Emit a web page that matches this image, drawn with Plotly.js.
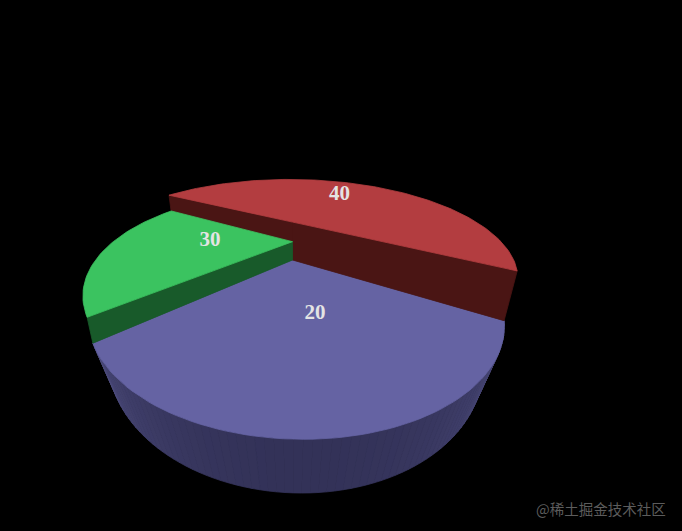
<!DOCTYPE html>
<html>
<head>
<meta charset="utf-8">
<script src="https://cdn.plot.ly/plotly-3.0.1.min.js"></script>
<style>html,body{margin:0;padding:0;background:#000;overflow:hidden}</style>
</head>
<body>
<div id="chart" style="width:682px;height:531px"></div>
<script>
// Data: wedge share and wedge height (the printed label)
const names = ['Red', 'Blue', 'Green'];
const shares = [50, 30, 20];
const heights = [40, 20, 30];
const labels = ['40', '20', '30'];

// Styles
const topColors = ['#b33d40', '#6563a3', '#3bc360'];
const wallColors = ['#4a1514', '#34335a', '#185a2a'];
const rimRadius = [0.975, 1, 0.985];
const labelRadius = [0.65, 0.47, 0.47];
const labelAngle = [301, 80.6, 184];
const labelNudge = [1.5, 1.7];   // px, x and y

// Camera of the 3D pie
const cam = {f: 290.4, D: 1.65, s: 0.476, c: 0.879, cx: 292.5, cy: 260, shear: 0.06};
const startAngle = 211.5;        // degrees, red wedge starts here
const unit = 0.01145;            // scene height per value unit
const lowest = Math.min(...heights);
const baseDrop = 0.287;          // thickness of the lowest wedge

function project(r, deg, z) {
  const t = deg * Math.PI / 180, X = r * Math.cos(t), Y = r * Math.sin(t);
  const depth = cam.D - Y * cam.c - z * cam.s;
  const dy = cam.f * (Y * cam.s - z * cam.c) / depth;
  const dyPlane = cam.f * (Y * cam.s) / depth;
  return [cam.cx + cam.f * X / depth + cam.shear * dyPlane, cam.cy + dy];
}
const zOf = h => (h - lowest) * unit;

function poly(points, color) {
  const pts = points.concat([points[0]]);
  return {
    type: 'scatter', mode: 'lines', fill: 'toself', fillcolor: color,
    x: pts.map(p => p[0]), y: pts.map(p => p[1]),
    line: {color: color, width: 0.8}, hoverinfo: 'skip', showlegend: false
  };
}
function arc(a0, a1, z, r) {
  const out = [], n = Math.max(2, Math.ceil(Math.abs(a1 - a0) / 1.5));
  for (let i = 0; i <= n; i++) out.push(project(r, a0 + (a1 - a0) * i / n, z));
  return out;
}
function sideShade(deg) {
  // darkest facing the viewer, lighter toward the silhouette
  const k = Math.abs(deg - 90) / 50;
  const m = Math.min(1, k * k);
  const a = [51, 50, 88], b = [76, 75, 124];
  return 'rgb(' + a.map((v, i) => Math.round(v + (b[i] - v) * m)).join(',') + ')';
}

// wedge angle ranges
const total = shares.reduce((p, q) => p + q, 0);
const ranges = [];
let cur = startAngle;
shares.forEach(v => { const sw = v / total * 360; ranges.push([cur, cur + sw]); cur += sw; });

const traces = [];
const red = 0, blue = 1, green = 2;
const zB = zOf(heights[blue]), zG = zOf(heights[green]), zR = zOf(heights[red]);
const bA0 = ranges[blue][0] % 360, bA1 = bA0 + shares[blue] / total * 360;

// blue outer side
for (let a = bA0; a < bA1; a += 1.5) {
  const e = Math.min(a + 1.5, bA1);
  const top = arc(a, e, zB, rimRadius[blue]), bot = arc(a, e, zB - baseDrop, rimRadius[blue]).reverse();
  traces.push(poly(top.concat(bot), sideShade((a + e) / 2)));
}
// blue top
traces.push(poly([project(0, 0, zB)].concat(arc(bA0, bA1, zB, rimRadius[blue])), topColors[blue]));
// red radial walls
[ranges[red][0], ranges[red][1]].forEach(a => {
  traces.push(poly([project(0, a, zR), project(rimRadius[red], a, zR), project(rimRadius[blue], a, zB), project(0, a, zB)], wallColors[red]));
});
// green radial wall (shared with blue)
const ga = ranges[green][0];
traces.push(poly([project(0, ga, zG), project(rimRadius[green], ga, zG), project(rimRadius[blue], ga, zB), project(0, ga, zB)], wallColors[green]));
// green top, red top
traces.push(poly([project(0, 0, zG)].concat(arc(ranges[green][0], ranges[green][1], zG, rimRadius[green])), topColors[green]));
traces.push(poly([project(0, 0, zR)].concat(arc(ranges[red][0], ranges[red][1], zR, rimRadius[red])), topColors[red]));

// labels
const lp = labels.map((t, i) => project(labelRadius[i], labelAngle[i], zOf(heights[i])));
traces.push({
  type: 'scatter', mode: 'text', x: lp.map(p => p[0] + labelNudge[0]), y: lp.map(p => p[1] + labelNudge[1]), text: labels,
  textposition: 'middle center', hoverinfo: 'skip', showlegend: false,
  textfont: {family: '"Liberation Serif", serif', size: 21, color: '#e4e4e4', weight: 700}
});

Plotly.newPlot('chart', traces, {
  width: 682, height: 531, margin: {l: 0, r: 0, t: 0, b: 0},
  paper_bgcolor: '#000', plot_bgcolor: '#000', showlegend: false,
  xaxis: {range: [0, 682], visible: false, fixedrange: true},
  yaxis: {range: [531, 0], visible: false, fixedrange: true},
  annotations: [{
    text: '@稀土掘金技术社区', xref: 'x', yref: 'y', x: 601, y: 508, showarrow: false,
    font: {family: '"Noto Sans CJK SC"', size: 14.5, color: '#5c5c5c'}
  }]
}, {displayModeBar: false, staticPlot: true});
</script>
</body>
</html>
